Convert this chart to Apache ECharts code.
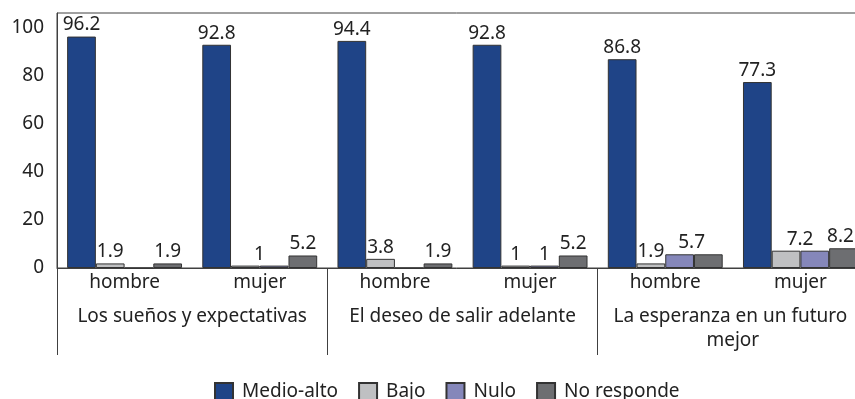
<!DOCTYPE html>
<html><head><meta charset="utf-8">
<script src="https://cdn.jsdelivr.net/npm/echarts@6/dist/echarts.min.js"></script>
<style>html,body{margin:0;padding:0;background:#fff}#c{width:855px;height:399px}</style>
</head><body><div id="c"></div>
<script>
var categories = ['hombre','mujer','hombre','mujer','hombre','mujer'];
var groups = ['Los sueños y expectativas','El deseo de salir adelante','La esperanza en un futuro mejor'];
var medioAlto = [96.2, 92.8, 94.4, 92.8, 86.8, 77.3];
var bajo = [1.9, 1, 3.8, 1, 1.9, 7.2];
var nulo = [0, 1, 0, 1, 5.7, 7.2];
var noResponde = [1.9, 5.2, 1.9, 5.2, 5.7, 8.2];
var yTicks = [0, 20, 40, 60, 80, 100];

var FONT = 'Noto Sans';
var FS = 19;
var chart = echarts.init(document.getElementById('c'), null, {renderer:'canvas'});

function lbl(extra){
  return Object.assign({show:true, position:'top', distance:2, fontFamily:FONT, fontSize:FS, color:'#222',
    formatter:function(p){return p.value===0?'':String(p.value);}}, extra||{});
}
// labels merged where two adjacent bars share a value; shifts: index -> x offset
function items(vals, hideIdx, shifts){
  return vals.map(function(v,i){
    if (hideIdx.indexOf(i)>=0) return {value:v, label:{show:false}};
    if (shifts[i] !== undefined) return {value:v, label:{offset:[shifts[i],0]}};
    return v;
  });
}
var border = {borderColor:'#333', borderWidth:1};
chart.setOption({
  animation:false,
  grid:{left:57, width:811, top:13, height:255, show:true, borderColor:'#404040', borderWidth:1,
        containLabel:false, outerBoundsMode:'none'},
  legend:{left:209, top:377, itemWidth:18, itemHeight:18, itemGap:20, icon:'rect',
    textStyle:{fontFamily:FONT, fontSize:FS, color:'#222', padding:[0,0,0,4]},
    data:['Medio-alto','Bajo','Nulo','No responde']},
  xAxis:[
    {type:'category', data:categories, position:'bottom',
     axisLine:{lineStyle:{color:'#404040', width:1}}, axisTick:{show:false},
     axisLabel:{fontFamily:FONT, fontSize:FS, color:'#222', margin:5, interval:0}},
    {type:'category', data:groups, position:'bottom', gridIndex:0,
     axisLine:{show:false},
     axisTick:{show:true, length:87, interval:0, lineStyle:{color:'#404040'}},
     axisLabel:{fontFamily:FONT, fontSize:FS, color:'#222', margin:37, interval:0, width:262, overflow:'break', lineHeight:24}}
  ],
  yAxis:{type:'value', min:0, max:106, interval:20,
    axisLine:{show:true, lineStyle:{color:'#404040'}}, axisTick:{show:false}, splitLine:{show:false},
    axisLabel:{fontFamily:FONT, fontSize:FS, color:'#222', margin:13, showMaxLabel:false,
      formatter:function(v){return yTicks.indexOf(v)>=0?String(v):'';}}},
  series:[
    {name:'Medio-alto', type:'bar', data:medioAlto, barGap:'0%', barCategoryGap:'15%',
     itemStyle:Object.assign({color:'#1F4487'},border), label:lbl()},
    {name:'Bajo', type:'bar', data:items(bajo,[],{1:14,5:14}),
     itemStyle:Object.assign({color:'#BFC0C2'},border), label:lbl()},
    {name:'Nulo', type:'bar', data:items(nulo,[1,5],{4:12}),
     itemStyle:Object.assign({color:'#8587BA'},border), label:lbl()},
    {name:'No responde', type:'bar', data:items(noResponde,[4],{5:-3}),
     itemStyle:Object.assign({color:'#6D6E71'},border), label:lbl()}
  ]
});
</script></body></html>
